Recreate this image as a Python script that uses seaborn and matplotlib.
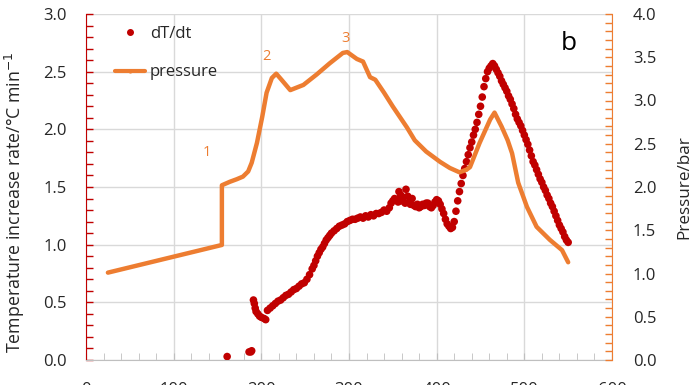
import matplotlib
matplotlib.use("Agg")
import matplotlib.pyplot as plt
import seaborn as sns
import pandas as pd
from matplotlib.lines import Line2D
from matplotlib.ticker import MultipleLocator

# ---- data ----
p_x = [25, 155, 155, 164, 172, 179, 185, 189, 195, 201, 206, 212, 217, 223, 233, 248, 263, 278,
       293, 298, 309, 316, 324, 330, 340, 350, 358, 366, 375, 388, 404, 415, 426, 434, 438, 449,
       461, 466, 474, 481, 486, 493, 503, 514, 529, 543, 550]
p_y = [1.01, 1.33, 2.02, 2.06, 2.09, 2.12, 2.18, 2.28, 2.51, 2.81, 3.09, 3.26, 3.31, 3.24, 3.12,
       3.18, 3.30, 3.43, 3.55, 3.56, 3.48, 3.45, 3.27, 3.24, 3.09, 2.93, 2.81, 2.69, 2.54, 2.41,
       2.29, 2.22, 2.17, 2.20, 2.23, 2.51, 2.78, 2.86, 2.70, 2.54, 2.39, 2.05, 1.77, 1.54,
       1.39, 1.27, 1.13]

d_x = [161, 186, 188, 189,
       191, 192, 193, 194, 196, 198, 200, 203, 205,
       207, 210, 213, 216, 219, 222, 225, 228, 231, 234, 237, 240, 243, 246, 249, 252, 255, 258,
       260, 262, 264, 266, 268, 270, 272, 274, 276, 278, 280, 283, 286, 289, 292, 295, 298, 301,
       304, 307, 310, 313, 316, 319, 322, 325, 328, 331, 334, 337, 340, 343, 346, 348, 350, 352,
       354, 356, 357, 359, 360, 362, 364, 365, 367, 369, 370, 372, 374, 376, 378, 380, 382, 384,
       386, 388, 390, 392, 394, 396, 398, 400, 402, 404, 406, 408, 410, 412, 414, 416, 418, 420,
       422, 424, 426, 428, 430, 432, 434, 436, 438, 440, 442, 444, 446, 448, 450, 452, 454, 456,
       458, 460, 462, 464, 466, 468, 470, 472, 474, 476, 478, 480, 482, 484, 486, 488, 490, 492,
       494, 496, 498, 500, 502, 504, 506, 508, 510, 512, 514, 516, 518, 520, 522, 524, 526, 528,
       530, 532, 534, 536, 538, 540, 542, 544, 546, 548, 550]
d_y = [0.03, 0.07, 0.07, 0.08,
       0.52, 0.49, 0.45, 0.42, 0.40, 0.38, 0.37, 0.36, 0.35,
       0.43, 0.45, 0.47, 0.49, 0.51, 0.52, 0.54, 0.56, 0.57, 0.59, 0.61, 0.62, 0.64, 0.66, 0.67,
       0.70, 0.74, 0.79,
       0.82, 0.86, 0.90, 0.93, 0.96, 0.98, 1.01, 1.04, 1.06, 1.08, 1.10, 1.12, 1.14, 1.16, 1.17,
       1.18, 1.20, 1.21,
       1.22, 1.22, 1.23, 1.24, 1.23, 1.25, 1.24, 1.26, 1.25, 1.27, 1.27, 1.28, 1.30, 1.29, 1.32,
       1.36, 1.38, 1.40,
       1.39, 1.37, 1.46, 1.43, 1.38, 1.41, 1.36, 1.48, 1.42, 1.37, 1.35, 1.40, 1.34, 1.33, 1.35,
       1.32, 1.33, 1.35,
       1.34, 1.36, 1.36, 1.33, 1.32, 1.34, 1.37, 1.39, 1.38, 1.35, 1.31, 1.27, 1.22, 1.18, 1.16,
       1.14, 1.15, 1.20,
       1.29, 1.38, 1.46, 1.53, 1.60, 1.66, 1.72, 1.78, 1.84, 1.89, 1.95, 2.00, 2.06, 2.13, 2.20,
       2.28, 2.37, 2.44,
       2.50, 2.53, 2.55, 2.57, 2.55, 2.52, 2.49, 2.46, 2.42, 2.39, 2.36, 2.33, 2.29, 2.26, 2.22,
       2.18, 2.13, 2.09,
       2.06, 2.03, 1.99, 1.95, 1.91, 1.87, 1.82, 1.77, 1.72, 1.69, 1.65, 1.61, 1.57, 1.54, 1.50,
       1.47, 1.43, 1.40,
       1.36, 1.33, 1.29, 1.25, 1.21, 1.17, 1.14, 1.11, 1.07, 1.04, 1.02]

x_ticks = [0, 100, 200, 300, 400, 500, 600]
left_ticks = [0.0, 0.5, 1.0, 1.5, 2.0, 2.5, 3.0]
right_ticks = [0.0, 0.5, 1.0, 1.5, 2.0, 2.5, 3.0, 3.5, 4.0]

RED = "#c00000"
ORANGE = "#ed7d31"
TXT = "#262626"

sns.set_style("white")
plt.rcParams["font.family"] = ["Open Sans", "DejaVu Sans"]

fig = plt.figure(figsize=(6.96, 3.85), dpi=100)
ax = fig.add_axes([86 / 696, 25 / 385, 526 / 696, 346 / 385])
ax2 = ax.twinx()

df_d = pd.DataFrame({"t": d_x, "rate": d_y})
df_p = pd.DataFrame({"t": p_x, "p": p_y})

sns.scatterplot(data=df_d, x="t", y="rate", ax=ax, color=RED, s=30, edgecolor="none",
                linewidth=0, zorder=3, legend=False)
sns.lineplot(data=df_p, x="t", y="p", ax=ax2, color=ORANGE, lw=3.2, estimator=None,
             sort=False, legend=False, zorder=2)
for ln in ax2.get_lines():
    ln.set_solid_joinstyle("round")
    ln.set_solid_capstyle("round")

ax.set_xlim(0, 600)
ax.set_ylim(0, 3.0)
ax2.set_ylim(0, 4.0)
ax.set_xticks(x_ticks)
ax.set_yticks(left_ticks)
ax2.set_yticks(right_ticks)
ax.set_xticklabels([str(v) for v in x_ticks])
ax.set_yticklabels([f"{v:.1f}" for v in left_ticks])
ax2.set_yticklabels([f"{v:.1f}" for v in right_ticks])
ax.xaxis.set_minor_locator(MultipleLocator(20))
ax.yaxis.set_minor_locator(MultipleLocator(0.1))
ax2.yaxis.set_minor_locator(MultipleLocator(0.1))

ax.grid(True, which="major", color="#d9d9d9", lw=1)
ax.set_axisbelow(True)
for a in (ax, ax2):
    a.spines["top"].set_visible(False)
ax.spines["right"].set_visible(False)
ax.spines["left"].set_color(RED)
ax.spines["bottom"].set_color("#bfbfbf")
ax2.spines["left"].set_visible(False)
ax2.spines["bottom"].set_visible(False)
ax2.spines["right"].set_color(ORANGE)

ax.tick_params(axis="y", which="both", direction="in", color=RED, length=5, width=1,
               labelsize=12, labelcolor=TXT, pad=14, left=True)
ax.tick_params(axis="x", which="both", direction="in", color="#bfbfbf", length=5,
               labelsize=12, labelcolor=TXT, pad=15.5, bottom=True)
ax2.tick_params(axis="y", which="both", direction="in", color=ORANGE, length=5, width=1,
                labelsize=12, labelcolor=TXT, pad=15, right=True)

ax.set_xlabel("")
ax.set_ylabel("Temperature increase rate/°C min$^{-1}$", fontsize=12.8, color=TXT)
ax.yaxis.set_label_coords(-0.113, 0.455)
ax2.set_ylabel("Pressure/bar", fontsize=12.3, color=TXT, labelpad=14)

ax.text(138, 1.80, "1", color=ORANGE, fontsize=10.5, ha="center", va="center")
ax.text(206, 2.63, "2", color=ORANGE, fontsize=10.5, ha="center", va="center")
ax.text(296, 2.79, "3", color=ORANGE, fontsize=10.5, ha="center", va="center")
ax.text(551, 2.74, "b", color="black", fontsize=19, ha="center", va="center")

handles = [Line2D([], [], color=RED, marker="o", ls="none", markersize=4),
           Line2D([], [], color=ORANGE, lw=3, marker="o", markersize=2)]
leg = ax.legend(handles, ["dT/dt", "pressure"], loc="upper left",
                bbox_to_anchor=(0.042, 0.985), borderaxespad=0, frameon=False, fontsize=12,
                labelspacing=1.35, handlelength=1.8, handletextpad=0.3)
for t in leg.get_texts():
    t.set_color(TXT)

fig.savefig("out.png", dpi=100)
